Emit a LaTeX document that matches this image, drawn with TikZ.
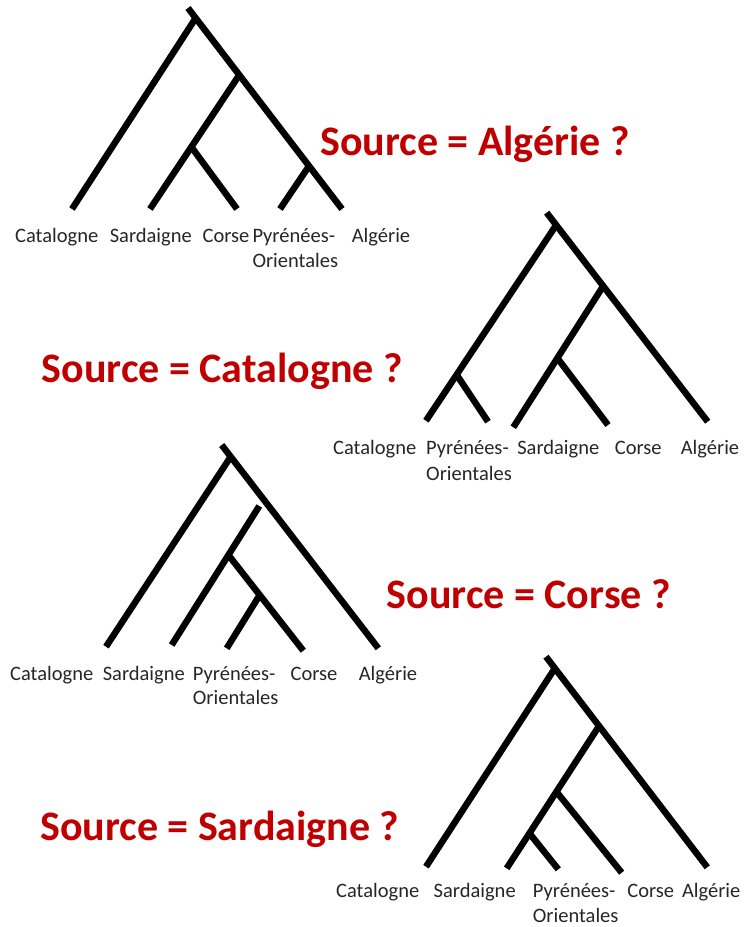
\documentclass[tikz,border=0pt]{standalone}
\usepackage{fontspec}
\setmainfont{Carlito}
\usetikzlibrary{calc}
\definecolor{srcred}{HTML}{C00000}
\begin{document}
\begin{tikzpicture}[x=1pt,y=-1pt,
  branch/.style={line width=6.5pt,black,line cap=butt},
  leaflabel/.style={font=\fontsize{20.5}{25}\selectfont,anchor=base,inner sep=0pt,text=black!85},
  leaflabelL/.style={font=\fontsize{20.5}{25}\selectfont,anchor=base west,inner sep=0pt,text=black!85},
  question/.style={font=\fontsize{42}{50}\selectfont\bfseries,anchor=base west,inner sep=0pt,text=srcred}]
\useasboundingbox (0,0) rectangle (746,927);

% ---------- Tree 1 : Source = Algerie ----------
\coordinate (t1top) at (188,8);
\coordinate (t1A) at (342,209);
\coordinate (t1root) at ($(t1top)!0.05!(t1A)$);
\coordinate (t1n2) at ($(t1top)!0.333!(t1A)$);
\coordinate (t1n4) at ($(t1top)!0.786!(t1A)$);
\coordinate (t1C) at (72,209);
\coordinate (t1S) at (150,209);
\coordinate (t1n3) at ($(t1n2)!0.537!(t1S)$);
\coordinate (t1Co) at (237,209);
\coordinate (t1P) at (280,209);
\draw[branch] (t1top) -- (t1A);
\draw[branch] (t1root) -- (t1C);
\draw[branch] (t1n2) -- (t1S);
\draw[branch] (t1n3) -- (t1Co);
\draw[branch] (t1n4) -- (t1P);
\node[leaflabel] (l1C) at (56.7,242) {Catalogne};
\node[leaflabel] (l1S) at (150.8,242) {Sardaigne};
\node[leaflabel] (l1Co) at (226,242) {Corse};
\node[leaflabelL] (l1P) at (252.3,242) {Pyrénées-};
\node[leaflabelL] (l1O) at (252.3,267) {Orientales};
\node[leaflabel] (l1A) at (381,242) {Algérie};
\node[question] (q1) at (320,155) {Source = Algérie ?};

% ---------- Tree 2 : Source = Catalogne ----------
\coordinate (t2top) at (546.7,212.7);
\coordinate (t2A) at (707.7,421.7);
\coordinate (t2root) at ($(t2top)!0.059!(t2A)$);
\coordinate (t2n2) at ($(t2top)!0.351!(t2A)$);
\coordinate (t2C) at (426,420.7);
\coordinate (t2nP) at ($(t2root)!0.765!(t2C)$);
\coordinate (t2P) at (488,421.7);
\coordinate (t2S) at (513.3,427.3);
\coordinate (t2n3) at ($(t2n2)!0.51!(t2S)$);
\coordinate (t2Co) at (608,425);
\draw[branch] (t2top) -- (t2A);
\draw[branch] (t2root) -- (t2C);
\draw[branch] (t2nP) -- (t2P);
\draw[branch] (t2n2) -- (t2S);
\draw[branch] (t2n3) -- (t2Co);
\node[leaflabel] (l2C) at (374.7,454) {Catalogne};
\node[leaflabelL] (l2P) at (426,454) {Pyrénées-};
\node[leaflabelL] (l2O) at (426,480) {Orientales};
\node[leaflabel] (l2S) at (558.3,454) {Sardaigne};
\node[leaflabel] (l2Co) at (638.3,454) {Corse};
\node[leaflabel] (l2A) at (710,454) {Algérie};
\node[question] (q2) at (41.7,382) {Source = Catalogne ?};

% ---------- Tree 3 : Source = Corse ----------
\coordinate (t3top) at (221.7,445);
\coordinate (t3A) at (378.3,648.3);
\coordinate (t3root) at ($(t3top)!0.0575!(t3A)$);
\coordinate (t3C) at (106,646.7);
\coordinate (t3stop) at (259.3,506);
\coordinate (t3S) at (171.7,645);
\coordinate (t3n) at ($(t3stop)!0.3525!(t3S)$);
\coordinate (t3Co) at (303.3,650.7);
\coordinate (t3n2) at ($(t3n)!0.418!(t3Co)$);
\coordinate (t3P) at (226.7,648.3);
\draw[branch] (t3top) -- (t3A);
\draw[branch] (t3root) -- (t3C);
\draw[branch] (t3stop) -- (t3S);
\draw[branch] (t3n) -- (t3Co);
\draw[branch] (t3n2) -- (t3P);
\node[leaflabel] (l3C) at (51.7,680) {Catalogne};
\node[leaflabel] (l3S) at (143.8,680) {Sardaigne};
\node[leaflabelL] (l3P) at (192.7,680) {Pyrénées-};
\node[leaflabelL] (l3O) at (192.7,704) {Orientales};
\node[leaflabel] (l3Co) at (314,680) {Corse};
\node[leaflabel] (l3A) at (388,680) {Algérie};
\node[question] (q3) at (386.7,608) {Source = Corse ?};

% ---------- Tree 4 : Source = Sardaigne ----------
\coordinate (t4top) at (546,656.7);
\coordinate (t4A) at (707.3,867.3);
\coordinate (t4root) at ($(t4top)!0.055!(t4A)$);
\coordinate (t4n2) at ($(t4top)!0.329!(t4A)$);
\coordinate (t4C) at (426,866.7);
\coordinate (t4S) at (506.7,868.3);
\coordinate (t4n3) at ($(t4n2)!0.4617!(t4S)$);
\coordinate (t4n4) at ($(t4n2)!0.754!(t4S)$);
\coordinate (t4Co) at (621.7,872.7);
\coordinate (t4P) at (558.3,869.3);
\draw[branch] (t4top) -- (t4A);
\draw[branch] (t4root) -- (t4C);
\draw[branch] (t4n2) -- (t4S);
\draw[branch] (t4n3) -- (t4Co);
\draw[branch] (t4n4) -- (t4P);
\node[leaflabel] (l4C) at (377.7,897) {Catalogne};
\node[leaflabel] (l4S) at (474.7,897) {Sardaigne};
\node[leaflabelL] (l4P) at (532.7,897) {Pyrénées-};
\node[leaflabelL] (l4O) at (532.7,922) {Orientales};
\node[leaflabel] (l4Co) at (650.7,897) {Corse};
\node[leaflabel] (l4A) at (711.2,897) {Algérie};
\node[question] (q4) at (40,840) {Source = Sardaigne ?};
\end{tikzpicture}
\end{document}
